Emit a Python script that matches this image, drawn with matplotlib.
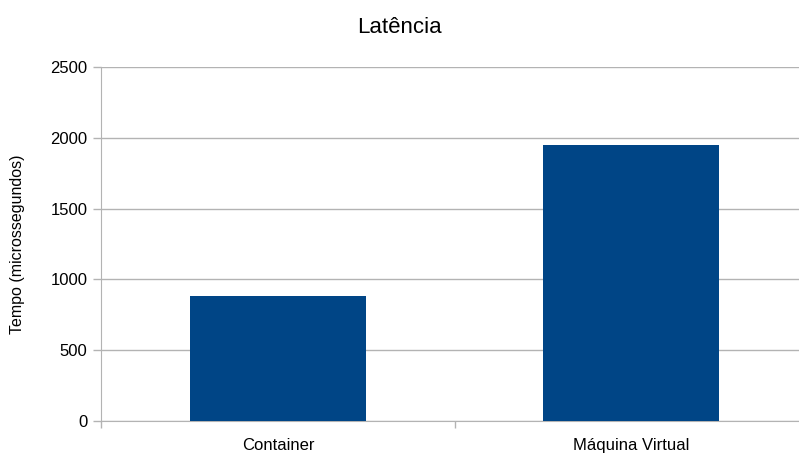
import matplotlib.pyplot as plt
from matplotlib.ticker import FixedLocator

# -------------------------------
# PODACI
# -------------------------------
categorias = ['Container', 'Máquina Virtual']
latencia = [883, 1950]
y_ticks = [0, 500, 1000, 1500, 2000, 2500]

plt.rcParams['font.family'] = ['Liberation Sans', 'DejaVu Sans']

fig = plt.figure(figsize=(7.99, 4.54), dpi=100)
ax = fig.add_axes([0.127, 0.0727, 0.884, 0.7797])

pos = list(range(len(categorias)))
ax.bar(pos, latencia, width=0.5, color='#004586', zorder=3)

ax.set_xlim(-0.5, len(categorias) - 0.5)
ax.set_ylim(0, 2500)
ax.set_yticks(y_ticks)
ax.yaxis.grid(True, color='#b3b3b3', linewidth=1, zorder=0)

# ticks nas fronteiras das categorias, rotulos no centro
ax.xaxis.set_major_locator(FixedLocator([-0.5, 0.5, 1.5]))
ax.xaxis.set_major_formatter(plt.NullFormatter())
ax.xaxis.set_minor_locator(FixedLocator(pos))
ax.set_xticklabels(categorias, minor=True)
ax.tick_params(axis='x', which='minor', length=0, pad=12, labelsize=12)
ax.tick_params(axis='x', which='major', length=5, color='#b3b3b3', width=1)
ax.tick_params(axis='y', length=6, color='#b3b3b3', width=1, pad=4, labelsize=12)

for s in ['top', 'right']:
    ax.spines[s].set_visible(False)
for s in ['left', 'bottom']:
    ax.spines[s].set_color('#b3b3b3')

ax.set_ylabel('Tempo (microssegundos)', fontsize=11.5, labelpad=18)
fig.suptitle('Latência', fontsize=16, y=0.962)

fig.savefig('out.png', dpi=100)
